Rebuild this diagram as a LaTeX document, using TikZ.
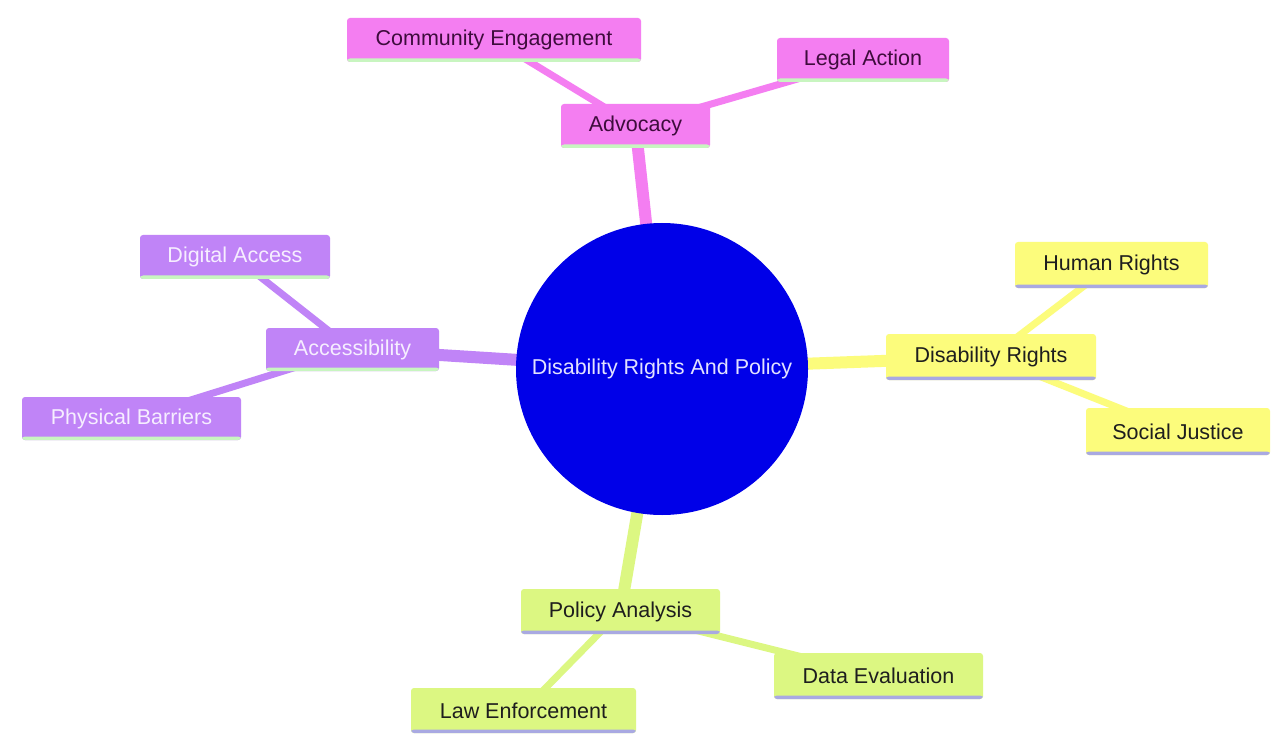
\documentclass[tikz,border=0pt]{standalone}
\usepackage{fontspec}
\setmainfont{Liberation Sans}
\usetikzlibrary{backgrounds}
\definecolor{pinkfill}{HTML}{F47EF1}
\definecolor{pinktext}{HTML}{3E0C3C}
\definecolor{yellowfill}{HTML}{FCFC7C}
\definecolor{purplefill}{HTML}{C084F7}
\definecolor{purpletext}{HTML}{F6EEFF}
\definecolor{limefill}{HTML}{DCF782}
\definecolor{darktext}{HTML}{1E1E1E}
\definecolor{greenline}{HTML}{C8F5C0}
\definecolor{lavline}{HTML}{A9A9E2}
\definecolor{rootblue}{HTML}{0000E8}
\definecolor{roottext}{HTML}{E2E2FF}
\tikzset{
  mbox/.style 2 args={rectangle, rounded corners=3pt, fill=#1, inner sep=0pt,
    font=\fontsize{21.5}{24}\selectfont,
    path picture={\fill[#2] ([yshift=3.5pt]path picture bounding box.south west) rectangle (path picture bounding box.south east);}},
  pinkbox/.style={mbox={pinkfill}{greenline}, text=pinktext},
  yellowbox/.style={mbox={yellowfill}{lavline}, text=darktext},
  purplebox/.style={mbox={purplefill}{greenline}, text=purpletext},
  limebox/.style={mbox={limefill}{lavline}, text=darktext},
  mainedge/.style={line width=12pt},
  subedge/.style={line width=7pt},
}
\begin{document}
\begin{tikzpicture}[x=1pt,y=-1pt]
\useasboundingbox (0,0) rectangle (1271,735);
% root
\node[circle, fill=rootblue, minimum size=292pt, inner sep=0pt, text=roottext, font=\fontsize{21.5}{24}\selectfont] (root) at (662,369) {Disability Rights And Policy};
% advocacy
\node[pinkbox, minimum width=149pt, minimum height=44pt] (adv) at (635.5,126) {Advocacy};
\node[pinkbox, minimum width=294pt, minimum height=44pt] (comm) at (494,40) {Community Engagement};
\node[pinkbox, minimum width=172pt, minimum height=44pt] (legal) at (863,60) {Legal Action};
% disability rights
\node[yellowbox, minimum width=210pt, minimum height=46pt] (dr) at (991,357) {Disability Rights};
\node[yellowbox, minimum width=193pt, minimum height=46pt] (human) at (1111.5,265) {Human Rights};
\node[yellowbox, minimum width=184pt, minimum height=47pt] (sj) at (1178,431.5) {Social Justice};
% accessibility
\node[purplebox, minimum width=173pt, minimum height=43pt] (acc) at (352.5,349.5) {Accessibility};
\node[purplebox, minimum width=190pt, minimum height=44pt] (dig) at (235,257) {Digital Access};
\node[purplebox, minimum width=219pt, minimum height=43pt] (phys) at (131.5,418.5) {Physical Barriers};
% policy analysis
\node[limebox, minimum width=199pt, minimum height=45pt] (pol) at (620.5,611.5) {Policy Analysis};
\node[limebox, minimum width=209pt, minimum height=46pt] (data) at (878.5,676) {Data Evaluation};
\node[limebox, minimum width=225pt, minimum height=45pt] (law) at (523.5,710.5) {Law Enforcement};
\begin{pgfonlayer}{background}
\fill[white] (0,0) rectangle (1271,735);
\draw[mainedge, pinkfill] (root.center) -- (adv.center);
\draw[mainedge, yellowfill] (root.center) -- (dr.center);
\draw[mainedge, purplefill] (root.center) -- (acc.center);
\draw[mainedge, limefill] (root.center) -- (pol.center);
\draw[subedge, pinkfill] (adv.center) -- (comm.center);
\draw[subedge, pinkfill] (adv.center) -- (legal.center);
\draw[subedge, yellowfill] (dr.center) -- (human.center);
\draw[subedge, yellowfill] (dr.center) -- (sj.center);
\draw[subedge, purplefill] (acc.center) -- (dig.center);
\draw[subedge, purplefill] (acc.center) -- (phys.center);
\draw[subedge, limefill] (pol.center) -- (data.center);
\draw[subedge, limefill] (pol.center) -- (law.center);
\end{pgfonlayer}
\end{tikzpicture}
\end{document}
